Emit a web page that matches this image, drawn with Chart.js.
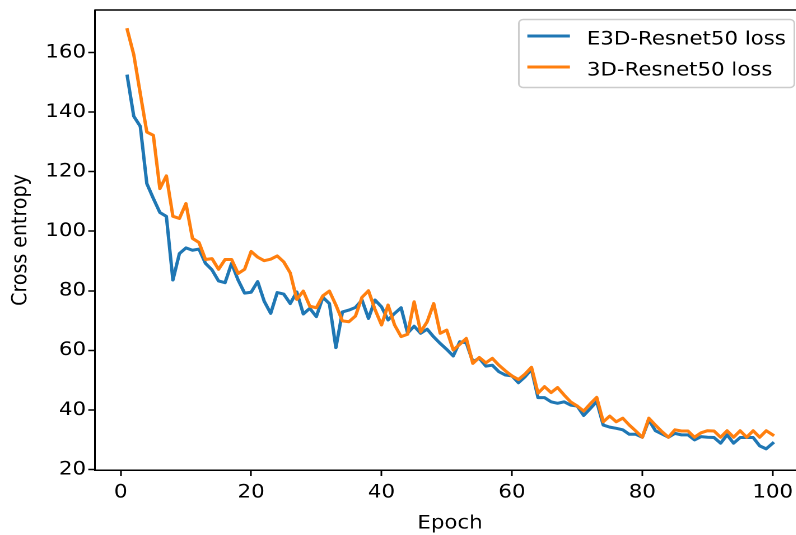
<!DOCTYPE html>
<html lang="en">
<head>
<meta charset="UTF-8">
<title>Cross entropy loss per epoch</title>
<style>
  html, body { margin: 0; padding: 0; overflow: hidden; background: #fff; }
  /* the reference is stretched horizontally, so the canvas is too */
  #lossChart { display: block; transform: scaleX(1.12); transform-origin: 0 0; }
</style>
</head>
<body>
<canvas id="lossChart" width="725" height="535"></canvas>
<script src="https://cdn.jsdelivr.net/npm/chart.js"></script>
<script>
const epochs = [
  1, 2, 3, 4, 5, 6, 7, 8, 9, 10, 11, 12, 13, 14, 15, 16, 17, 18, 19, 20,
  21, 22, 23, 24, 25, 26, 27, 28, 29, 30, 31, 32, 33, 34, 35, 36, 37, 38, 39, 40,
  41, 42, 43, 44, 45, 46, 47, 48, 49, 50, 51, 52, 53, 54, 55, 56, 57, 58, 59, 60,
  61, 62, 63, 64, 65, 66, 67, 68, 69, 70, 71, 72, 73, 74, 75, 76, 77, 78, 79, 80,
  81, 82, 83, 84, 85, 86, 87, 88, 89, 90, 91, 92, 93, 94, 95, 96, 97, 98, 99, 100
];

const e3dLoss = [
  152.1, 138.6, 135.2, 116.0, 111.0, 106.3, 105.0, 83.6, 92.5, 94.4,
  93.6, 94.0, 89.2, 87.0, 83.3, 82.7, 89.2, 83.6, 79.2, 79.5,
  83.1, 76.5, 72.4, 79.4, 78.9, 75.7, 79.6, 72.2, 74.1, 71.3,
  77.8, 75.7, 60.9, 72.9, 73.5, 74.4, 76.9, 70.7, 76.9, 74.6,
  70.2, 72.4, 74.3, 65.8, 68.1, 65.7, 67.1, 64.5, 62.3, 60.3,
  58.1, 62.9, 62.5, 56.2, 57.3, 54.7, 55.0, 52.8, 51.7, 51.4,
  49.1, 51.1, 53.6, 44.1, 44.1, 42.7, 42.2, 42.7, 41.6, 41.3,
  38.1, 40.4, 42.8, 34.9, 34.2, 33.8, 33.3, 31.8, 31.8, 30.8,
  36.6, 33.0, 31.9, 30.8, 32.1, 31.6, 31.6, 29.9, 31.0, 30.8,
  30.7, 28.8, 31.6, 28.8, 30.7, 30.7, 30.7, 27.9, 26.9, 28.8
];

const resnetLoss = [
  167.7, 159.3, 146.2, 133.3, 132.2, 114.3, 118.6, 105.0, 104.3, 109.3,
  97.6, 96.2, 90.5, 90.8, 87.2, 90.5, 90.5, 85.8, 87.2, 93.2,
  91.3, 90.1, 90.6, 91.7, 89.7, 86.0, 77.1, 79.9, 74.8, 74.3,
  78.3, 79.9, 75.2, 69.9, 69.6, 71.5, 77.8, 80.0, 73.7, 68.5,
  75.2, 68.5, 64.6, 65.4, 76.3, 66.2, 69.6, 75.7, 65.7, 66.8,
  60.1, 62.0, 64.0, 55.6, 57.6, 55.8, 57.3, 55.0, 53.1, 51.4,
  50.2, 52.0, 54.3, 45.6, 47.8, 45.8, 47.5, 45.0, 42.7, 41.3,
  39.6, 42.0, 44.2, 36.0, 37.9, 36.0, 37.2, 34.9, 32.9, 30.8,
  37.2, 34.9, 32.7, 30.8, 33.3, 32.9, 32.9, 30.8, 32.3, 33.0,
  32.9, 30.8, 33.0, 30.8, 33.0, 30.8, 33.0, 30.8, 33.0, 31.6
];

const xTicks = [0, 20, 40, 60, 80, 100];
const yTicks = [20, 40, 60, 80, 100, 120, 140, 160];

const FONT = 'DejaVu Sans';
const FS = 19;

// matplotlib-like box: top/right spines and the legend in the upper right corner
const framePlugin = {
  id: 'frame',
  afterDraw(chart) {
    const { ctx, chartArea: a } = chart;
    ctx.save();
    ctx.strokeStyle = '#000';
    ctx.lineWidth = 1.5;
    ctx.beginPath();
    ctx.moveTo(a.left, a.top);
    ctx.lineTo(a.right, a.top);
    ctx.lineTo(a.right, a.bottom);
    ctx.stroke();

    // legend
    ctx.font = FS + 'px "' + FONT + '"';
    const sets = chart.data.datasets;
    const textW = Math.max(...sets.map(d => ctx.measureText(d.label).width));
    const pad = 0.4 * FS, handle = 2.0 * FS, gap = 0.8 * FS;
    const w = pad + handle + gap + textW + pad;
    const h = 3.58 * FS;
    const right = a.right - 0.5 * FS;
    const top = a.top + 0.5 * FS;
    const left = right - w;

    ctx.beginPath();
    ctx.roundRect(left, top, w, h, 0.2 * FS);
    ctx.fillStyle = 'rgba(255,255,255,0.8)';
    ctx.fill();
    ctx.strokeStyle = '#cccccc';
    ctx.lineWidth = 1.5;
    ctx.stroke();

    sets.forEach((d, i) => {
      const base = top + 1.31 * FS + i * 1.63 * FS;
      const ly = base - 0.44 * FS;
      ctx.beginPath();
      ctx.moveTo(left + pad, ly);
      ctx.lineTo(left + pad + handle, ly);
      ctx.strokeStyle = d.borderColor;
      ctx.lineWidth = 3;
      ctx.stroke();
      ctx.fillStyle = '#000';
      ctx.textBaseline = 'alphabetic';
      ctx.textAlign = 'left';
      ctx.fillText(d.label, left + pad + handle + gap, base);
    });
    ctx.restore();
  }
};

const tickFont = { family: FONT, size: FS };

const ctx = document.getElementById('lossChart').getContext('2d');
const lossChart = new Chart(ctx, {
  type: 'line',
  data: {
    datasets: [
      {
        label: 'E3D-Resnet50 loss',
        data: epochs.map((e, i) => ({ x: e, y: e3dLoss[i] })),
        borderColor: '#1f77b4',
        order: 1
      },
      {
        label: '3D-Resnet50 loss',
        data: epochs.map((e, i) => ({ x: e, y: resnetLoss[i] })),
        borderColor: '#ff7f0e',
        order: 0
      }
    ]
  },
  options: {
    responsive: false,
    animation: false,
    devicePixelRatio: 2,
    events: [],
    layout: { padding: { left: 0, top: 10, right: 6.25, bottom: 0 } },
    elements: {
      line: { borderWidth: 3, tension: 0, fill: false, borderJoinStyle: 'round', borderCapStyle: 'square' },
      point: { radius: 0 }
    },
    plugins: {
      legend: { display: false },
      tooltip: { enabled: false }
    },
    scales: {
      x: {
        type: 'linear',
        min: -3.95,
        max: 104.95,
        afterBuildTicks: axis => { axis.ticks = xTicks.map(v => ({ value: v })); },
        afterFit: axis => { axis.height = 65; axis.paddingLeft = 0; axis.paddingRight = 0; },
        grid: { display: true, drawOnChartArea: false, drawTicks: true, tickLength: 6, tickWidth: 1.5, tickColor: '#000' },
        border: { display: true, color: '#000', width: 1.5 },
        ticks: { color: '#000', font: tickFont, padding: 5, maxRotation: 0, autoSkip: false },
        title: { display: true, text: 'Epoch', color: '#000', font: tickFont, padding: { top: 0, bottom: 0 } }
      },
      y: {
        min: 19.8,
        max: 174.3,
        afterBuildTicks: axis => { axis.ticks = yTicks.map(v => ({ value: v })); },
        afterFit: axis => { axis.width = 84.8; axis.paddingTop = 0; axis.paddingBottom = 0; },
        grid: { display: true, drawOnChartArea: false, drawTicks: true, tickLength: 6, tickWidth: 1.5, tickColor: '#000' },
        border: { display: true, color: '#000', width: 1.5 },
        ticks: { color: '#000', font: tickFont, padding: 2, autoSkip: false },
        title: { display: true, text: 'Cross entropy', color: '#000', font: tickFont, padding: { top: 7, bottom: 0 } }
      }
    }
  },
  plugins: [framePlugin]
});
</script>
</body>
</html>
